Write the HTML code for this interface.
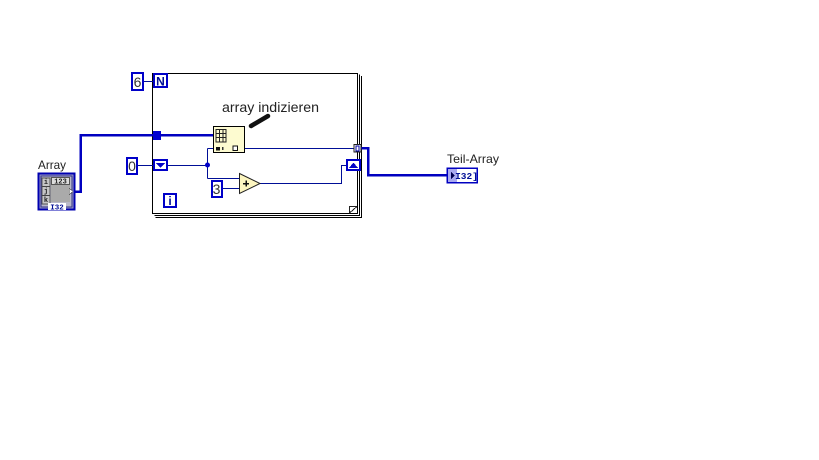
<!DOCTYPE html>
<html><head><meta charset="utf-8"><style>
html,body{margin:0;padding:0;background:#fff;width:819px;height:460px;overflow:hidden}
svg{display:block}
text{font-family:"Liberation Sans",sans-serif}
</style></head><body>
<svg width="819" height="460" viewBox="0 0 819 460" xmlns="http://www.w3.org/2000/svg" shape-rendering="crispEdges">
<rect width="819" height="460" fill="#fff"/>
<!-- loop frames -->
<path d="M155.500 217.500H361.500V76" fill="none" stroke="#000" stroke-width="1"/>
<path d="M154.500 215.500H359.500V74.500" fill="none" stroke="#000" stroke-width="1"/>
<rect x="152.500" y="73.500" width="205" height="140" fill="#fff" stroke="#000" stroke-width="1"/>
<path d="M349.500 213V206.500H357M349.500 213L357 206.500" fill="none" stroke="#222" stroke-width="1"/>
<!-- thin wires -->
<g fill="none" stroke="#000e96" stroke-width="1">
<path d="M144 81.500H153"/>
<path d="M137 165.500H153"/>
<path d="M168 165.500H207.500M207.500 148.500V178.500M207.500 148.500H213M207.500 178.500H239.500"/>
<path d="M222 188.500H239.500"/>
<path d="M260 183.500H341.500V165.500H346"/>
<path d="M245 148.500H354"/>
</g>
<circle cx="207.500" cy="165" r="2.500" fill="#0000c8" shape-rendering="auto"/>
<!-- thick wires -->
<g fill="none" stroke="#0000c0" stroke-width="2.500">
<path d="M74 191.500H80.500V135H213"/>
<path d="M361 148H368V175H447"/>
</g>
<rect x="153" y="131" width="8" height="9" fill="#0000d0"/>
<!-- constants -->
<g fill="#fff" stroke="#0000c8" stroke-width="2">
<rect x="132" y="73" width="11" height="17"/>
<rect x="127" y="158" width="10" height="16"/>
<rect x="212" y="181" width="10" height="16"/>
<rect x="154" y="74" width="13" height="13"/>
<rect x="164" y="194" width="12" height="13"/>
<rect x="154" y="160" width="13" height="10"/>
<rect x="347" y="160" width="13" height="10"/>
</g>
<g font-size="14" fill="#333" text-anchor="middle">
<text x="137.500" y="87">6</text>
<text x="132" y="171">0</text>
<text x="216.500" y="194">3</text>
</g>
<g font-size="12" font-weight="bold" fill="#000e96" text-anchor="middle">
<text x="160.500" y="85.500">N</text>
<text x="170" y="205">i</text>
</g>
<path d="M156 163H165L160.500 168Z" fill="#0000c8"/>
<path d="M349 168H358L353.500 162.500Z" fill="#0000c8"/>
<!-- tunnel -->
<rect x="354" y="144.500" width="7" height="7.500" fill="#fff" stroke="#222" stroke-width="1"/>
<rect x="356" y="146" width="3" height="5" fill="none" stroke="#0000a0" stroke-width="1"/>
<!-- index array -->
<rect x="213.500" y="126.500" width="31" height="26" fill="#fdfbd0" stroke="#000" stroke-width="1"/>
<path d="M216 129.500H226V142H216ZM216 133.500H226M216 137.500H226M219.500 129.500V142M223 129.500V142" fill="none" stroke="#222" stroke-width="1"/>
<rect x="216" y="147" width="4" height="3.500" fill="#111"/>
<rect x="222" y="147" width="1.500" height="3" fill="#333"/>
<rect x="233" y="146" width="4.500" height="4.500" fill="#fff" stroke="#111" stroke-width="1"/>
<!-- add -->
<path d="M239.500 173.500L260 183.500L239.500 193.500Z" fill="#fdf6c0" stroke="#222" stroke-width="1" shape-rendering="auto"/>
<path d="M243 183.500H249M246 180.500V186.500" stroke="#111" stroke-width="1.500"/>
<!-- marker -->
<path d="M251 126L268 116" stroke="#111" stroke-width="4.500" stroke-linecap="round" shape-rendering="auto"/>
<!-- array control -->
<rect x="38.500" y="173.500" width="36" height="36" fill="#9a9ac8" stroke="#0000b0" stroke-width="2"/>
<rect x="41" y="176" width="31" height="31" fill="#b8b8c8" stroke="#33338a" stroke-width="1"/>
<rect x="42" y="178" width="8" height="26" fill="#c6c6c6" stroke="#555" stroke-width="1"/>
<rect x="51.500" y="177.500" width="18" height="7" fill="#ddd" stroke="#555" stroke-width="1"/>
<rect x="51" y="185" width="19" height="17" fill="#aaa"/>
<path d="M42 186.500H50M42 195.500H50" stroke="#444" stroke-width="1"/>
<g font-size="7" font-weight="bold" fill="#222" text-anchor="middle">
<text x="46" y="184" style="font-family:'Liberation Mono',monospace">i</text>
<text x="46" y="193" style="font-family:'Liberation Mono',monospace">j</text>
<text x="46" y="202" style="font-family:'Liberation Mono',monospace">k</text>
<text x="60.500" y="183.500" style="font-family:'Liberation Mono',monospace">123</text>
</g>
<rect x="48" y="203" width="18" height="7" fill="#fff"/>
<text x="57" y="209.500" font-size="7.500" font-weight="bold" fill="#000e96" text-anchor="middle" style="font-family:'Liberation Mono',monospace">I32</text>
<path d="M69 188L73 191.500L69 195Z" fill="#fff" stroke="#444" stroke-width="0.500"/>
<!-- indicator -->
<rect x="447" y="168" width="30" height="14.500" fill="#fff" stroke="#0000c0" stroke-width="1.500"/>
<rect x="448" y="169" width="9" height="13" fill="#a9a9f0"/>
<path d="M451 172L455 175.500L451 179Z" fill="#000050"/>
<text x="466.500" y="179" font-size="9.500" font-weight="bold" fill="#000e96" text-anchor="middle" style="font-family:'Liberation Mono',monospace">I32]</text>
<!-- labels -->
<g shape-rendering="auto" fill="#222">
<text x="222" y="112" font-size="14" textLength="97" lengthAdjust="spacingAndGlyphs">array indizieren</text>
<text x="38" y="169" font-size="12" textLength="28" lengthAdjust="spacingAndGlyphs">Array</text>
<text x="447" y="163" font-size="12" textLength="52" lengthAdjust="spacingAndGlyphs">Teil-Array</text>
</g>
</svg>
</body></html>
